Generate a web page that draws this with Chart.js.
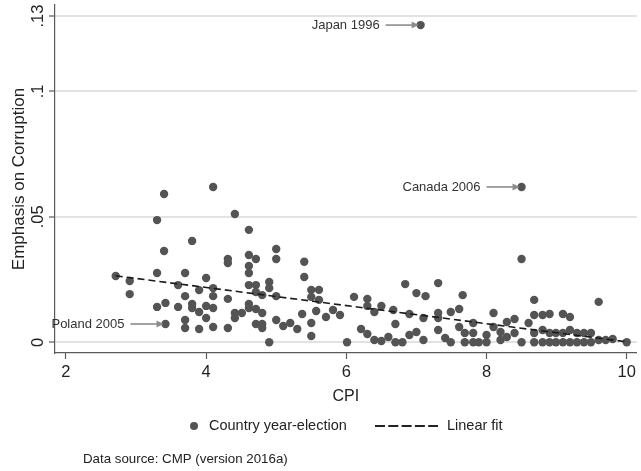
<!DOCTYPE html>
<html>
<head>
<meta charset="utf-8">
<script src="https://cdn.jsdelivr.net/npm/chart.js@4"></script>
<style>
  html, body { margin: 0; padding: 0; background: #ffffff; }
  #wrap { width: 641px; height: 471px; }
</style>
</head>
<body>
<div id="wrap"><canvas id="c" width="641" height="471"></canvas></div>
<script>
// ---------- data ----------
const cpi = [
  2.71, 2.91, 2.91, 3.30, 3.40, 3.40, 3.30, 3.30, 3.42, 3.42,
  3.60, 3.60, 3.70, 3.80, 3.70, 3.80, 3.80, 3.70, 3.70, 3.90,
  3.90, 3.90, 4.00, 4.00, 4.00, 4.10, 4.10, 4.10, 4.10, 4.10,
  4.31, 4.31, 4.31, 4.31, 4.41, 4.41, 4.41, 4.51, 4.61, 4.61,
  4.61, 4.61, 4.61, 4.61, 4.61, 4.71, 4.71, 4.71, 4.71, 4.71,
  4.80, 4.80, 4.80, 4.80, 4.90, 4.90, 4.90, 5.00, 5.00, 5.00,
  5.00, 5.10, 5.20, 5.30, 5.37, 5.40, 5.40, 5.50, 5.50, 5.50,
  5.50, 5.57, 5.61, 5.61, 5.71, 5.81, 5.91,
  6.01, 6.11, 6.21, 6.30, 6.30, 6.30, 6.40, 6.40, 6.50, 6.50,
  6.60, 6.67, 6.70, 6.70, 6.80, 6.84, 6.90, 6.90, 7.00, 7.00,
  7.10, 7.10, 7.13, 7.31, 7.31, 7.31, 7.31, 7.41, 7.49, 7.49,
  7.61, 7.61, 7.66, 7.69, 7.69, 7.81, 7.81, 7.81, 7.89, 8.00,
  8.00, 8.10, 8.10, 8.20, 8.20, 8.29, 8.29, 8.40, 8.40, 8.50,
  8.50, 8.60, 8.68, 8.68, 8.68, 8.68, 8.80, 8.80, 8.80, 8.90,
  8.90, 8.90, 8.99, 8.99, 9.09, 9.09, 9.09, 9.19, 9.19, 9.19,
  9.29, 9.29, 9.39, 9.39, 9.49, 9.49, 9.60, 9.60, 9.70, 9.80,
  10.00, 7.06, 8.50
];
const emphasis = [
  0.0264, 0.0244, 0.0192, 0.0487, 0.0591, 0.0364, 0.0276, 0.0141, 0.0157, 0.0073,
  0.0228, 0.0141, 0.0276, 0.0404, 0.0184, 0.0153, 0.0137, 0.0089, 0.0057, 0.0208,
  0.0121, 0.0053, 0.0256, 0.0145, 0.0097, 0.0619, 0.0216, 0.0184, 0.0137, 0.0061,
  0.0332, 0.0316, 0.0173, 0.0057, 0.0511, 0.0117, 0.0097, 0.0117, 0.0448, 0.0348,
  0.0304, 0.0276, 0.0228, 0.0153, 0.0137, 0.0332, 0.0228, 0.0200, 0.0133, 0.0073,
  0.0188, 0.0117, 0.0073, 0.0057, 0.0240, 0.0216, 0.0000, 0.0372, 0.0332, 0.0184,
  0.0089, 0.0065, 0.0077, 0.0053, 0.0113, 0.0321, 0.0260, 0.0209, 0.0181, 0.0077,
  0.0025, 0.0125, 0.0209, 0.0169, 0.0101, 0.0129, 0.0109,
  0.0000, 0.0181, 0.0053, 0.0173, 0.0145, 0.0033, 0.0121, 0.0009, 0.0145, 0.0005,
  0.0021, 0.0129, 0.0073, 0.0000, 0.0000, 0.0232, 0.0113, 0.0029, 0.0196, 0.0041,
  0.0097, 0.0009, 0.0184, 0.0236, 0.0117, 0.0097, 0.0049, 0.0017, 0.0121, 0.0000,
  0.0133, 0.0061, 0.0188, 0.0037, 0.0000, 0.0077, 0.0037, 0.0000, 0.0000, 0.0029,
  0.0000, 0.0117, 0.0061, 0.0041, 0.0009, 0.0081, 0.0021, 0.0093, 0.0037, 0.0332,
  0.0000, 0.0077, 0.0169, 0.0109, 0.0037, 0.0000, 0.0109, 0.0049, 0.0000, 0.0113,
  0.0037, 0.0000, 0.0037, 0.0000, 0.0113, 0.0037, 0.0000, 0.0101, 0.0049, 0.0000,
  0.0037, 0.0000, 0.0037, 0.0000, 0.0037, 0.0000, 0.0161, 0.0009, 0.0009, 0.0013,
  0.0000, 0.1264, 0.0619
];
const fitX = [2.71, 10.0];
const fitY = [0.0265, 0.0002];

const annotLabels = ['Japan 1996', 'Canada 2006', 'Poland 2005'];
const annotX = [7.06, 8.50, 3.42];
const annotY = [0.1264, 0.0619, 0.0073];

const xTicks = [2, 4, 6, 8, 10];
const yTicks = [0, 0.05, 0.1, 0.13];
const yTickLabels = ['0', '.05', '.1', '.13'];

const xTitle = 'CPI';
const yTitle = 'Emphasis on Corruption';
const legendLabels = ['Country year-election', 'Linear fit'];
const noteText = 'Data source: CMP (version 2016a)';

// ---------- chart ----------
const FONT = "'Liberation Sans', Arial, Helvetica, sans-serif";
const TXT = '#222222';
const DOT = '#545454';
const AXIS = '#5a5a5a';

const scatterData = cpi.map((x, i) => ({x: x, y: emphasis[i]}));
const fitData = fitX.map((x, i) => ({x: x, y: fitY[i]}));

const extrasPlugin = {
  id: 'extras',
  afterDatasetsDraw(chart) {
    const ctx = chart.ctx;
    const xs = chart.scales.x, ys = chart.scales.y;
    ctx.save();
    // annotations with arrows
    ctx.font = '13px ' + FONT;
    ctx.textBaseline = 'middle';
    ctx.textAlign = 'right';
    for (let i = 0; i < annotLabels.length; i++) {
      const px = xs.getPixelForValue(annotX[i]);
      const py = ys.getPixelForValue(annotY[i]);
      ctx.fillStyle = '#333333';
      ctx.fillText(annotLabels[i], px - 41, py + 0.5);
      ctx.strokeStyle = '#8c8c8c';
      ctx.fillStyle = '#8c8c8c';
      ctx.lineWidth = 1.6;
      ctx.beginPath();
      ctx.moveTo(px - 35, py);
      ctx.lineTo(px - 7, py);
      ctx.stroke();
      ctx.beginPath();
      ctx.moveTo(px - 2, py);
      ctx.lineTo(px - 9, py - 3.5);
      ctx.lineTo(px - 9, py + 3.5);
      ctx.closePath();
      ctx.fill();
    }
    ctx.restore();
  },
  afterDraw(chart) {
    const ctx = chart.ctx;
    const ys = chart.scales.y;
    ctx.save();
    // rotated y tick labels
    ctx.font = '16.5px ' + FONT;
    ctx.fillStyle = TXT;
    ctx.textAlign = 'center';
    ctx.textBaseline = 'alphabetic';
    for (let i = 0; i < yTicks.length; i++) {
      const py = ys.getPixelForValue(yTicks[i]);
      ctx.save();
      ctx.translate(43, py);
      ctx.rotate(-Math.PI / 2);
      ctx.fillText(yTickLabels[i], 0, 0);
      ctx.restore();
    }
    // legend
    const ly = 426;
    ctx.fillStyle = DOT;
    ctx.beginPath();
    ctx.arc(194, ly, 4, 0, Math.PI * 2);
    ctx.fill();
    ctx.font = '14.5px ' + FONT;
    ctx.fillStyle = TXT;
    ctx.textAlign = 'left';
    ctx.textBaseline = 'middle';
    ctx.fillText(legendLabels[0], 209, ly);
    ctx.strokeStyle = '#222222';
    ctx.lineWidth = 2;
    ctx.setLineDash([10, 3.3]);
    ctx.beginPath();
    ctx.moveTo(375, ly);
    ctx.lineTo(438, ly);
    ctx.stroke();
    ctx.setLineDash([]);
    ctx.fillText(legendLabels[1], 447, ly);
    // note
    ctx.font = '13.3px ' + FONT;
    ctx.fillText(noteText, 83, 459);
    ctx.restore();
  }
};

new Chart(document.getElementById('c'), {
  type: 'scatter',
  data: {
    datasets: [
      {
        type: 'line',
        label: legendLabels[1],
        data: fitData,
        showLine: true,
        borderColor: '#1a1a1a',
        borderWidth: 1.6,
        borderDash: [7, 4],
        pointRadius: 0,
        fill: false,
        order: 1
      },
      {
        type: 'scatter',
        label: legendLabels[0],
        data: scatterData,
        backgroundColor: DOT,
        borderColor: DOT,
        borderWidth: 0,
        pointRadius: 4.2,
        pointHoverRadius: 4.2,
        order: 2
      }
    ]
  },
  options: {
    responsive: false,
    animation: false,
    devicePixelRatio: 1,
    layout: { padding: { left: 0, right: 0, top: 5, bottom: 64.4 } },
    plugins: {
      legend: { display: false },
      tooltip: { enabled: false }
    },
    scales: {
      x: {
        type: 'linear',
        min: 1.844,
        max: 10.144,
        afterBuildTicks(scale) { scale.ticks = xTicks.map(v => ({value: v})); },
        ticks: {
          padding: 0,
          color: TXT,
          font: { family: FONT, size: 16.5, lineHeight: 1.6 },
          callback: (v) => String(v)
        },
        grid: {
          drawOnChartArea: false,
          drawTicks: true,
          tickLength: 6,
          tickColor: AXIS,
          tickWidth: 1.2
        },
        border: { display: true, color: AXIS, width: 1.2 },
        title: {
          display: true,
          text: xTitle,
          color: TXT,
          font: { family: FONT, size: 16, lineHeight: 1.2 },
          padding: { top: 2, bottom: 0 }
        }
      },
      y: {
        type: 'linear',
        min: -0.00426,
        max: 0.1344,
        afterBuildTicks(scale) { scale.ticks = yTicks.map(v => ({value: v})); },
        ticks: { display: false },
        grid: {
          drawOnChartArea: true,
          color: '#e2e2e2',
          lineWidth: 2,
          drawTicks: true,
          tickLength: 6,
          tickColor: AXIS,
          tickWidth: 1.2
        },
        border: { display: true, color: AXIS, width: 1.2 },
        title: {
          display: true,
          text: yTitle,
          color: TXT,
          font: { family: FONT, size: 17, lineHeight: 1.2 },
          padding: { top: 9.3, bottom: 19.3 }
        }
      }
    }
  },
  plugins: [extrasPlugin]
});
</script>
</body>
</html>
